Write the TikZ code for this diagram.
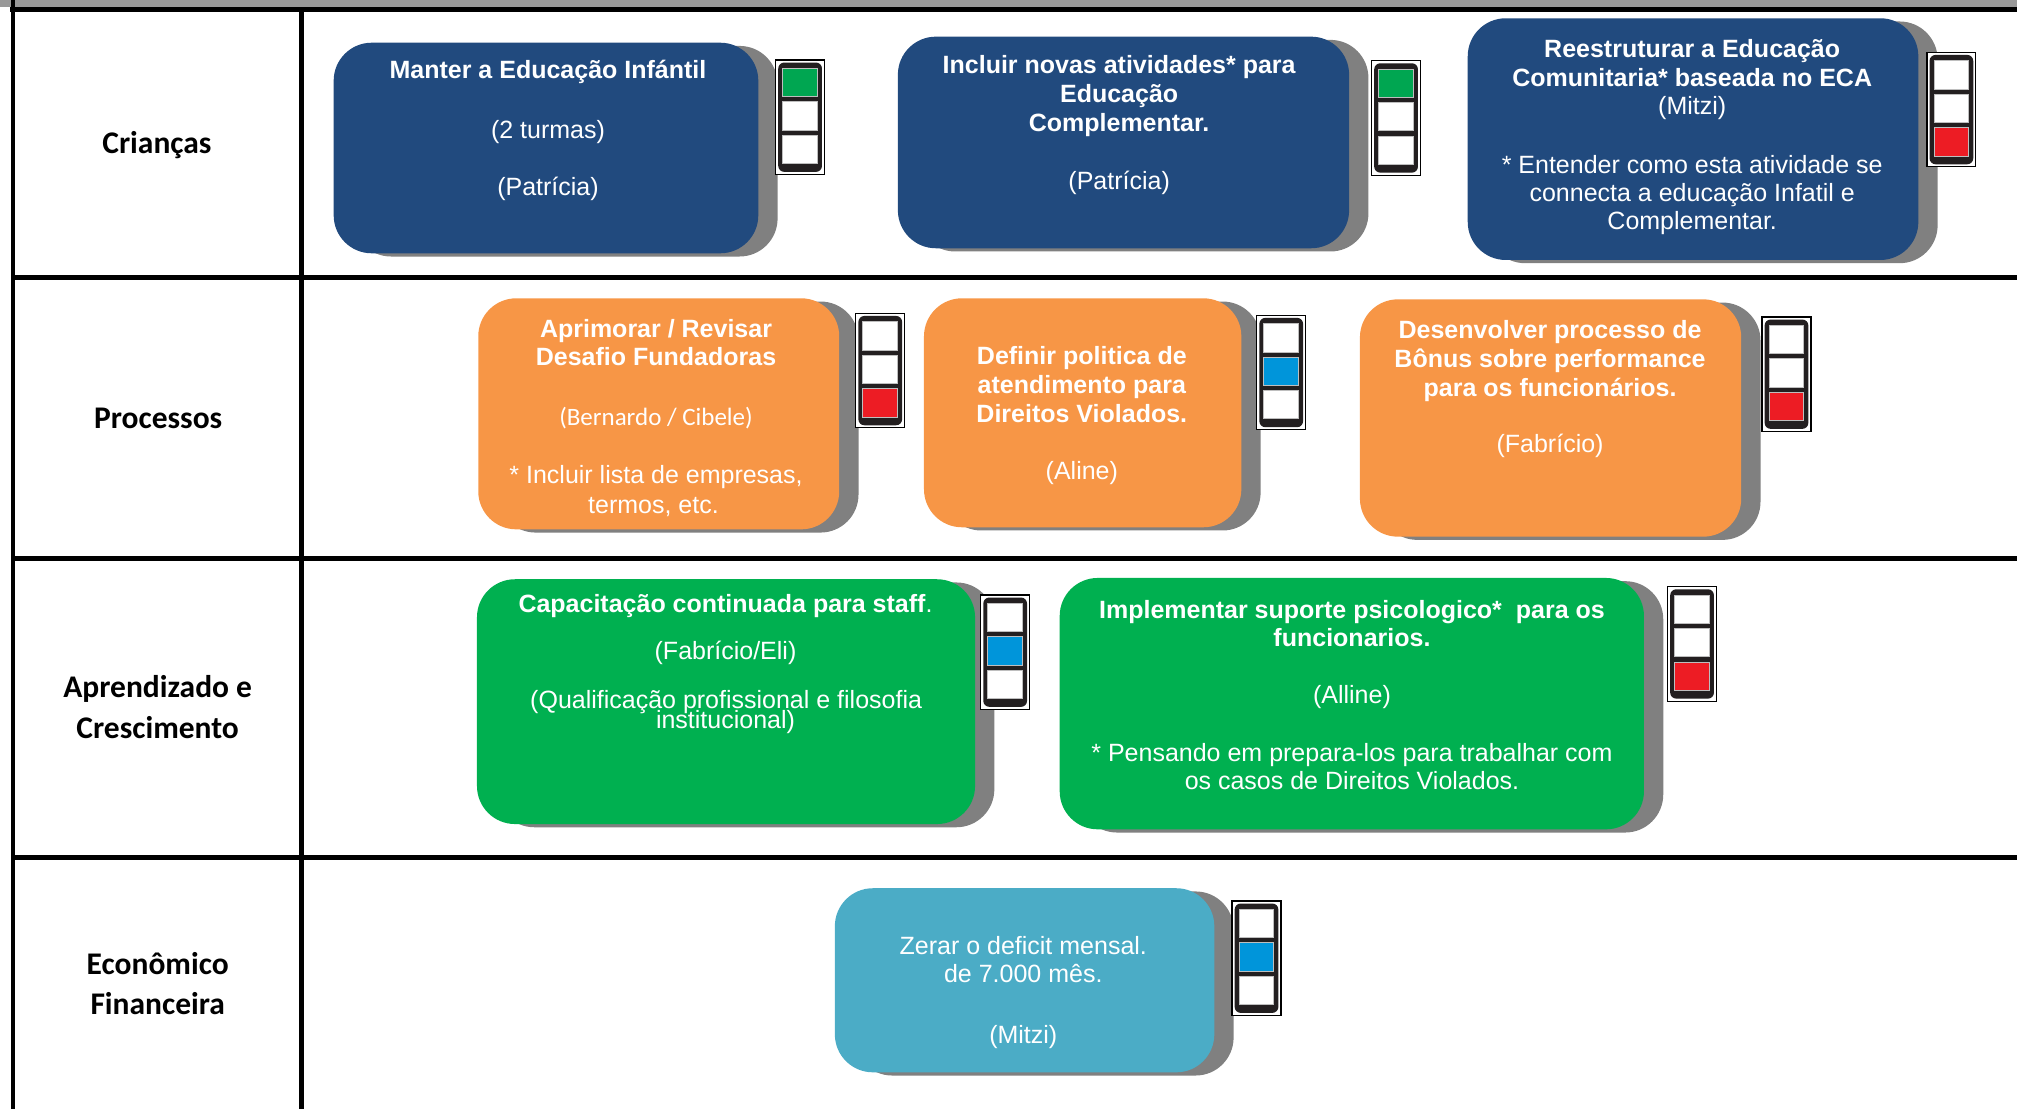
\documentclass[tikz,border=0pt]{standalone}
\usepackage{fontspec}
\setmainfont{Liberation Sans}
\newfontfamily\calib{Carlito}
\definecolor{dblue}{RGB}{33,74,126}
\definecolor{orng}{RGB}{247,150,70}
\definecolor{grn}{RGB}{0,176,80}
\definecolor{teal2}{RGB}{75,172,198}
\definecolor{shadowc}{RGB}{128,128,128}
\definecolor{topgray}{RGB}{153,153,153}
\definecolor{tldark}{RGB}{35,31,32}
\definecolor{tlgray}{RGB}{190,190,190}
\definecolor{lgreen}{RGB}{0,166,81}
\definecolor{lblue}{RGB}{0,149,218}
\definecolor{lred}{RGB}{237,28,36}
\tikzset{
 bt/.style={font=\fontsize{12.5}{14}\selectfont\bfseries, text=white, inner sep=0pt, text height=8.95pt, text depth=0pt},
 nt/.style={font=\fontsize{12.5}{14}\selectfont, text=white, inner sep=0pt, text height=8.95pt, text depth=0pt},
 ct/.style={font=\calib\fontsize{12.5}{14}\selectfont, text=white, inner sep=0pt, text height=8.05pt, text depth=0pt},
 lab/.style={font=\calib\bfseries\fontsize{15.75}{18}\selectfont, text=black, inner sep=0pt, text height=10.1pt, text depth=0pt},
 rulel/.style={line width=2.3pt, black},
 kshadow/.style={fill=shadowc, rounded corners=19pt},
}
\newcommand\kbox[5]{%
 \fill[kshadow, shift={(15,2.5)}] (#2,#3) rectangle (#4,#5);
 \fill[#1, rounded corners=19pt] (#2,#3) rectangle (#4,#5);}
\newcommand\tlight[4]{%
 \begin{scope}[shift={(#1,#2)}]
  \draw[line width=0.6pt, fill=white] (0,0) rectangle (38,89);
  \fill[tldark, rounded corners=3pt] (2,2) rectangle (36,87);
  \foreach \k/\yy in {1/6.5,2/32.5,3/58.5}{
    \ifnum\k=#3 \def\cc{#4}\else\def\cc{white}\fi
    \draw[tlgray, line width=0.4pt, fill=\cc] (5.5,\yy) rectangle (32.5,\yy+22);
  }
 \end{scope}}
\begin{document}
\begin{tikzpicture}[x=0.6432pt, y=-0.6432pt]
\useasboundingbox (0,0) rectangle (1568,862);
% table
\fill[topgray] (0,0) rectangle (1568,5.5);
\draw[rulel] (8,7.5) -- (1568,7.5);
\draw[rulel] (10,0) -- (10,862);
\draw[rulel] (234.5,7.5) -- (234.5,862);
\draw[rulel] (10,215.7) -- (1568,215.7);
\draw[rulel] (10,434) -- (1568,434);
\draw[rulel] (10,666.5) -- (1568,666.5);
% row labels
\node[lab] (l1) at (122,111.4) {Crianças};
\node[lab] (l2) at (123,325.2) {Processos};
\node[lab] (l3a) at (122.6,534.3) {Aprendizado e};
\node[lab] (l3b) at (122.6,566.2) {Crescimento};
\node[lab] (l4a) at (122.6,750) {Econômico};
\node[lab] (l4b) at (122.6,781) {Financeira};
% boxes
\kbox{dblue}{259.4}{33.2}{589.5}{196.9}
\kbox{dblue}{698}{28.5}{1048.8}{193}
\kbox{dblue}{1141}{14.2}{1491.3}{202.1}
\kbox{orng}{371.8}{231.9}{652.4}{411.5}
\kbox{orng}{718.3}{231.9}{965}{409.9}
\kbox{orng}{1057.2}{232.7}{1353.6}{417.2}
\kbox{grn}{370.8}{450.3}{758}{640.6}
\kbox{grn}{823.8}{449.3}{1278}{644.7}
\kbox{teal2}{649}{690.5}{944}{833.6}
% traffic lights
\tlight{603}{46.6}{1}{lgreen}
\tlight{1066.3}{47.2}{1}{lgreen}
\tlight{1498}{40.7}{3}{lred}
\tlight{665.3}{243.6}{3}{lred}
\tlight{977}{245.1}{2}{lblue}
\tlight{1369.8}{246.4}{3}{lred}
\tlight{762.4}{462.5}{2}{lblue}
\tlight{1296.4}{456.1}{3}{lred}
\tlight{957.8}{700.4}{2}{lblue}
% box A
\node[bt] (a1) at (426,54.4) {Manter a Educação Infántil};
\node[nt] (a2) at (426,101) {(2 turmas)};
\node[nt] (a3) at (426,145) {(Patrícia)};
% box B
\node[bt] (b1) at (870,50.5) {Incluir novas atividades* para};
\node[bt] (b2) at (870,72.5) {Educação};
\node[bt] (b3) at (870,95.4) {Complementar.};
\node[nt] (b4) at (870,140) {(Patrícia)};
% box C
\node[bt] (c1) at (1315.5,37.6) {Reestruturar a Educação};
\node[bt] (c2) at (1315.5,60.1) {Comunitaria* baseada no ECA};
\node[nt] (c3) at (1315.5,82.4) {(Mitzi)};
\node[nt] (c4) at (1315.5,127.7) {* Entender como esta atividade se};
\node[nt] (c5) at (1315.5,149.8) {connecta a educação Infatil e};
\node[nt] (c6) at (1315.5,171.5) {Complementar.};
% box D
\node[bt] (d1) at (510,255.2) {Aprimorar / Revisar};
\node[bt] (d2) at (510,277.3) {Desafio Fundadoras};
\node[ct] (d3) at (510,324.7) {(Bernardo / Cibele)};
\node[nt] (d4) at (510,369.2) {* Incluir lista de empresas,};
\node[nt] (d5) at (508,392) {termos, etc.};
% box E
\node[bt] (e1) at (841,276.7) {Definir politica de};
\node[bt] (e2) at (841,299.3) {atendimento para};
\node[bt] (e3) at (841,321.8) {Direitos Violados.};
\node[nt] (e4) at (841,366.1) {(Aline)};
% box F
\node[bt] (f1) at (1205,256.5) {Desenvolver processo de};
\node[bt] (f2) at (1205,278.6) {Bônus sobre performance};
\node[bt] (f3) at (1205,301.1) {para os funcionários.};
\node[nt] (f4) at (1205,344.6) {(Fabrício)};
% box G
\node[bt] (g1) at (564,469) {Capacitação continuada para staff\mdseries.};
\node[nt] (g2) at (564,505.8) {(Fabrício/Eli)};
\node[nt] (g3) at (564.5,543.6) {(Qualificação profissional e filosofia};
\node[nt] (g4) at (564,559.2) {institucional)};
% box H
\node[bt] (h1) at (1051,473.7) {Implementar suporte psicologico*\ \ para os};
\node[bt] (h2) at (1051,495.7) {funcionarios.};
\node[nt] (h3) at (1051,540.3) {(Alline)};
\node[nt] (h4) at (1051,584.8) {* Pensando em prepara-los para trabalhar com};
\node[nt] (h5) at (1051,607.1) {os casos de Direitos Violados.};
% box I
\node[nt] (i1) at (795.5,735.4) {Zerar o deficit mensal.};
\node[nt] (i2) at (795.5,756.6) {de 7.000 mês.};
\node[nt] (i3) at (795.5,804) {(Mitzi)};
\end{tikzpicture}
\end{document}
